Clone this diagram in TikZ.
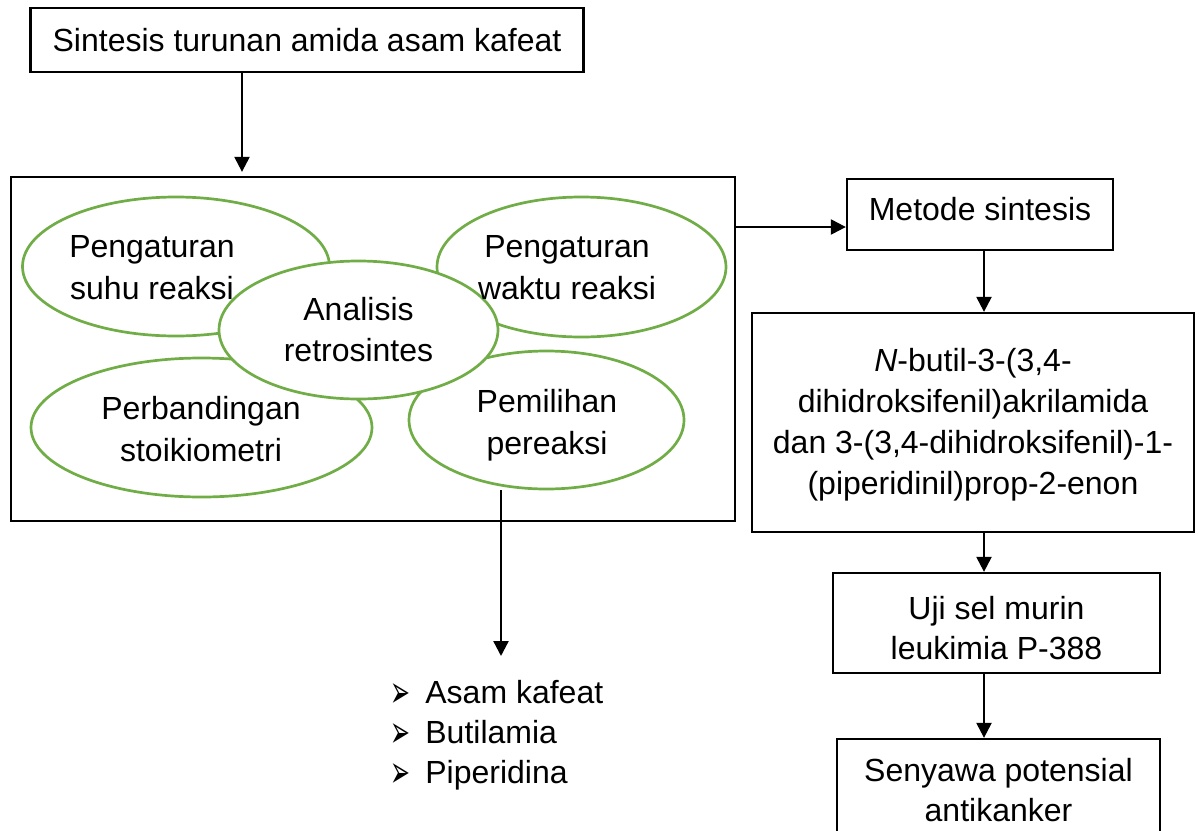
\documentclass[tikz,border=0pt]{standalone}
\usepackage{fontspec}
\usepackage{graphicx}
\setmainfont{Liberation Sans}
\newfontfamily\dejavu{DejaVu Sans}
\usetikzlibrary{shapes.geometric,arrows.meta}
\definecolor{ovalgreen}{HTML}{70AD47}
\newcommand{\bul}{\makebox[17.5pt][l]{\smash{\raisebox{-2pt}{\scalebox{0.85}[1.6]{\dejavu\fontsize{14}{14}\selectfont ➢}}}}}
\begin{document}
\begin{tikzpicture}[x=0.5pt,y=-0.5pt,
  txt/.style={font=\fontsize{16}{21}\selectfont, align=center, inner sep=0pt, anchor=north},
  box/.style={draw=black, line width=1.15pt, inner sep=0pt, align=center},
  oval/.style={ellipse, draw=ovalgreen, line width=1.35pt, inner sep=0pt},
  arr/.style={draw=black, line width=1.15pt, -{Triangle[length=7.5pt,width=7.5pt]}}]
\useasboundingbox (0,0) rectangle (1201,831);

% boxes
\node[box, font=\fontsize{16}{20.5}\selectfont, minimum width=276.5pt, minimum height=32pt] (title) at (307,40) {Sintesis turunan amida asam kafeat};
\node[box, minimum width=362pt, minimum height=172pt] (big) at (373,349) {};
\node[box, font=\fontsize{16}{20.5}\selectfont, minimum width=133pt, minimum height=35.5pt] (metode) at (980,214.5) {Metode sintesis\rule[-6pt]{0pt}{6pt}};
\node[box, font=\fontsize{16}{20.5}\selectfont, minimum width=221pt, minimum height=109.5pt] (compound) at (973,422.5)
  {\rule{0pt}{14pt}\textit{N}-butil-3-(3,4-\\dihidroksifenil)akrilamida\\dan 3-(3,4-dihidroksifenil)-1-\\(piperidinil)prop-2-enon};
\node[box, font=\fontsize{16}{20}\selectfont, minimum width=163.5pt, minimum height=50pt] (uji) at (996.5,623) {\rule{0pt}{16.5pt}Uji sel murin\\leukimia P-388};
\node[box, font=\fontsize{16}{20}\selectfont, minimum width=161.5pt, minimum height=51.5pt] (senyawa) at (998.5,790.5) {Senyawa potensial\\antikanker};

% ovals
\node[oval, minimum width=153.5pt, minimum height=69.5pt] (e1) at (176,266.5) {};
\node[oval, minimum width=144.5pt, minimum height=70pt] (e2) at (581.5,267) {};
\node[oval, minimum width=170.5pt, minimum height=69.5pt] (e4) at (201.5,427.5) {};
\node[oval, minimum width=137.5pt, minimum height=69pt] (e5) at (546.5,420) {};
\node[oval, fill=white, minimum width=139.5pt, minimum height=69pt, font=\fontsize{16}{20.5}\selectfont, align=center] (e3) at (358.5,330) {Analisis\\retrosintes};

% oval texts
\node[txt] (t1) at (152,235) {Pengaturan\\suhu reaksi};
\node[txt] (t2) at (567,235) {Pengaturan\\waktu reaksi};
\node[txt] (t4) at (201,396) {Perbandingan\\stoikiometri};
\node[txt] (t5) at (547,389) {Pemilihan\\pereaksi};

% list
\node[font=\fontsize{16}{20}\selectfont, align=left, inner sep=0pt, anchor=north west] (list) at (390,680)
  {\bul Asam kafeat\\\bul Butilamia\\\bul Piperidina};

% connector helpers
\coordinate (c1) at (242,0);
\coordinate (r1) at (0,227);
\coordinate (colx) at (984,0);
\coordinate (tip) at (501,656);

% connectors
\draw[arr, shorten >=2pt] (title.south -| c1) -- (big.north -| c1);
\draw[arr] (big.east |- r1) -- (metode.west |- r1);
\draw[arr] (metode.south -| colx) -- (compound.north -| colx);
\draw[arr] (compound.south -| colx) -- (uji.north -| colx);
\draw[arr] (uji.south -| colx) -- (senyawa.north -| colx);
\draw[arr] (e5.south -| tip) -- (tip);
\end{tikzpicture}
\end{document}
